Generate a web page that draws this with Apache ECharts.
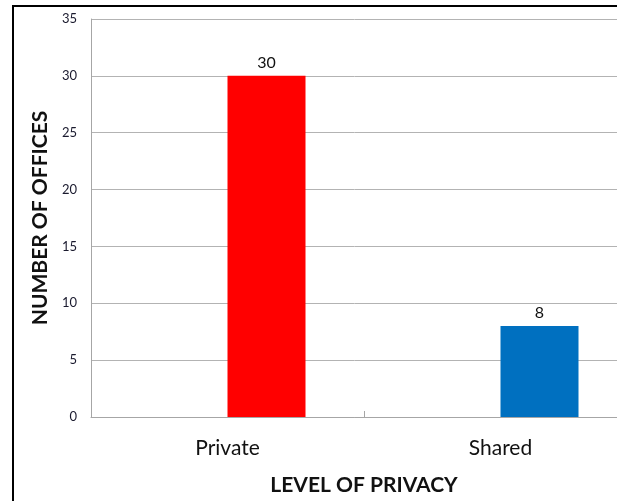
<!DOCTYPE html>
<html>
<head>
<meta charset="utf-8">
<script src="https://cdn.jsdelivr.net/npm/echarts@6/dist/echarts.min.js"></script>
<style>
  html, body { margin: 0; padding: 0; background: #fff; }
  #chart { width: 617px; height: 501px; }
</style>
</head>
<body>
<div id="chart"></div>
<script>
// Office counts by level of privacy
const categories = ['Private', 'Shared'];
const offices = [30, 8];
const barColors = ['#FF0000', '#0070C0'];
const yTicks = { min: 0, max: 35, interval: 5 };

const chart = echarts.init(document.getElementById('chart'), null, { renderer: 'canvas' });

const FONT = 'Lato, "Open Sans", sans-serif';

chart.setOption({
  animation: false,
  backgroundColor: '#fff',
  graphic: [{
    type: 'rect',
    shape: { x: 13, y: 6, width: 700, height: 600 },
    style: { fill: 'none', stroke: '#000', lineWidth: 2 },
    silent: true,
    z: 10
  }],
  grid: { left: 91, top: 19, right: -20, bottom: 84, containLabel: false, outerBoundsMode: 'none' },
  xAxis: {
    type: 'category',
    data: categories,
    name: 'LEVEL OF PRIVACY',
    nameLocation: 'middle',
    nameGap: 58,
    nameTextStyle: { fontFamily: FONT, fontWeight: 'bold', fontSize: 21, color: '#111' },
    axisLine: { lineStyle: { color: '#a6a6a6', width: 1 } },
    axisTick: { show: true, inside: true, length: 6, lineStyle: { color: '#a6a6a6' } },
    axisLabel: { fontFamily: FONT, fontSize: 21, color: '#111', margin: 21 }
  },
  yAxis: {
    type: 'value',
    min: yTicks.min,
    max: yTicks.max,
    interval: yTicks.interval,
    name: 'NUMBER OF OFFICES',
    nameLocation: 'middle',
    nameRotate: 90,
    nameGap: 37,
    nameTextStyle: { fontFamily: FONT, fontWeight: 'bold', fontSize: 21, color: '#111' },
    axisLine: { show: true, lineStyle: { color: '#a6a6a6', width: 1 } },
    axisTick: { show: false },
    axisLabel: { fontFamily: FONT, fontSize: 13, color: '#1a1a2e', margin: 14 },
    splitLine: { show: true, lineStyle: { color: '#b3b3b3', width: 1 } }
  },
  series: [
    {
      // empty leading slot in each category group
      type: 'bar',
      data: categories.map(() => null),
      barWidth: 78,
      barGap: '0%'
    },
    {
      type: 'bar',
      barWidth: 78,
      barGap: '0%',
      data: offices.map((v, i) => ({ value: v, itemStyle: { color: barColors[i] } })),
      label: {
        show: true,
        position: 'top',
        distance: 5,
        fontFamily: FONT,
        fontSize: 16,
        color: '#111'
      }
    }
  ]
});
</script>
</body>
</html>
